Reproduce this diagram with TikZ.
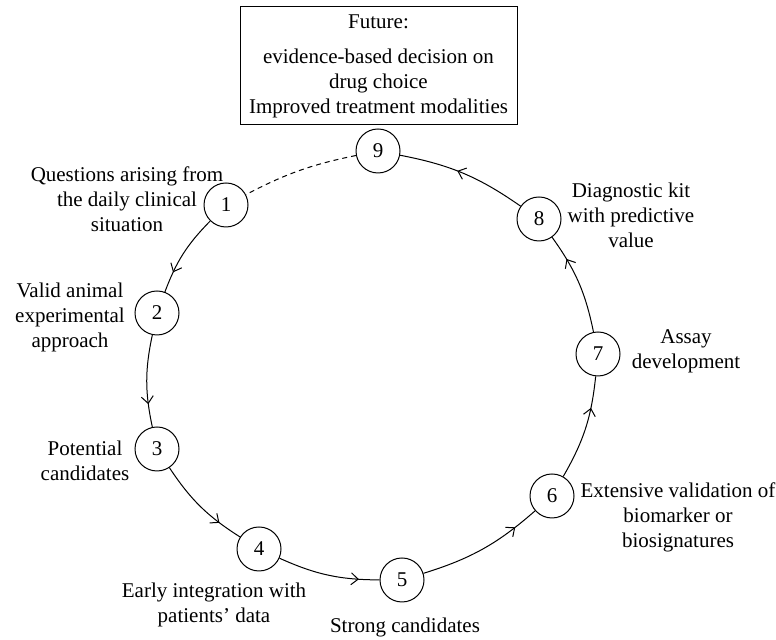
\documentclass[tikz,border=0pt]{standalone}
\usepackage{fontspec}
\setmainfont{Liberation Serif}
\usetikzlibrary{arrows.meta,decorations.markings,positioning}

\begin{document}
\begin{tikzpicture}[x=0.5pt, y=0.5pt,
    every node/.style={font=\fontsize{10.5}{12.5}\selectfont},
    stage/.style={circle, draw, line width=0.5pt, minimum size=22pt, inner sep=0pt},
    note/.style={align=center, inner sep=0pt},
    flow/.style={line width=0.5pt, bend right=12, postaction={decorate},
      decoration={markings, mark=at position #1 with {\arrow{Straight Barb[length=3.5pt,width=6pt]}}}},
    flow/.default=0.75
  ]
\useasboundingbox (0,0) rectangle (776,640);

% outcome box
\node[draw, line width=0.5pt, minimum width=138.5pt, minimum height=59pt, align=center] (future) at (378.5,574)
  {Future:\\[5pt] evidence-based decision on\\drug choice\\Improved treatment modalities};

% stages of the cycle
\node[stage] (n1) at (226,435) {1};
\node[stage] (n2) at (157,327) {2};
\node[stage] (n3) at (157,191) {3};
\node[stage] (n4) at (259,91) {4};
\node[stage] (n5) at (402,60) {5};
\node[stage] (n6) at (552,144) {6};
\node[stage] (n7) at (598,286) {7};
\node[stage] (n8) at (539,421) {8};
\node[stage] (n9) at (378,489) {9};

% labels
\node[note] (l1) at (127,441) {Questions arising from\\the daily clinical\\situation};
\node[note] (l2) at (70,323) {Valid animal\\experimental\\approach};
\node[note] (l3) at (85,179) {Potential\\candidates};
\node[note] (l4) at (214,35) {Early integration with\\patients' data};
\node[note] (l5) at (405,13) {Strong candidates};
\node[note] (l6) at (678,123) {Extensive validation of\\biomarker or\\biosignatures};
\node[note] (l7) at (686,289) {Assay\\development};
\node[note] (l8) at (631,425) {Diagnostic kit\\with predictive\\value};

% connectors
\draw[flow] (n1) to (n2);
\draw[flow] (n2) to (n3);
\draw[flow] (n3) to (n4);
\draw[flow=0.8] (n4) to (n5);
\draw[flow=0.8] (n5) to (n6);
\draw[flow=0.7] (n6) to (n7);
\draw[flow] (n7) to (n8);
\draw[flow=0.55] (n8) to (n9);
\draw[line width=0.5pt, dash pattern=on 2.5pt off 2pt, bend right=8] (n9) to (n1);
\end{tikzpicture}
\end{document}
